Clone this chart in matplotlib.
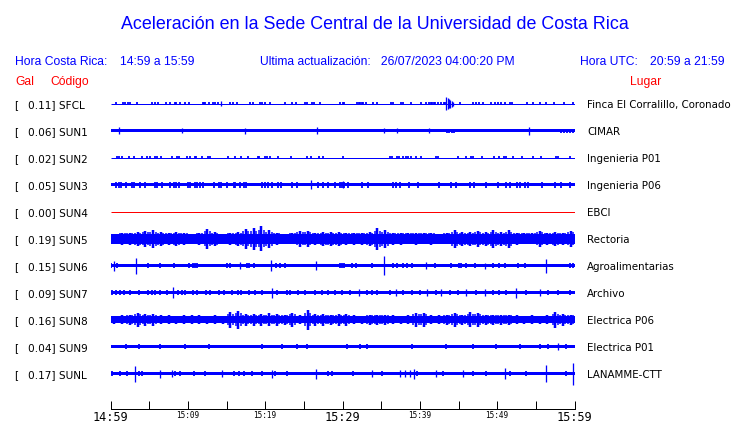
import matplotlib

matplotlib.use("Agg")
import matplotlib.pyplot as plt
import numpy as np

W, H = 740, 423
BLUE = "#0000ff"
RED = "#ff0000"

STATIONS = ["SFCL", "SUN1", "SUN2", "SUN3", "SUN4", "SUN5", "SUN6", "SUN7", "SUN8", "SUN9", "SUNL"]
GAL = ["0.11", "0.06", "0.02", "0.05", "0.00", "0.19", "0.15", "0.09", "0.16", "0.04", "0.17"]
PLACES = [
    "Finca El Corralillo, Coronado", "CIMAR", "Ingenieria P01", "Ingenieria P06", "EBCI",
    "Rectoria", "Agroalimentarias", "Archivo", "Electrica P06", "Electrica P01", "LANAMME-CTT",
]
TICK_MIN = [0, 10, 20, 30, 40, 50, 60]
TICK_TXT = ["14:59", "15:09", "15:19", "15:29", "15:39", "15:49", "15:59"]

# half-amplitude of the steady trace band and of small bursts, in pixels
BASE = [0.5, 1.5, 0.5, 1.3, 0.5, 5.0, 1.7, 1.7, 3.3, 1.5, 1.7]
BURST = [1.7, 2.0, 1.7, 3.0, 0.0, 0.0, 2.7, 2.8, 0.0, 2.3, 2.8]

# minutes after 14:59 with small bursts
SFCL_T = [0.73, 1.59, 1.85, 2.3, 2.5, 3.44, 5.38, 5.72, 6.11, 7.18, 7.74, 8.3, 8.5, 9.03, 9.59,
          10.11, 11.95, 12.1, 12.25, 12.69, 13.25, 13.55, 13.89, 15.4, 15.83, 16.34, 18.06, 18.37,
          19.35, 19.55, 20.0, 20.65, 22.58, 23.44, 23.96, 25.2, 25.4, 26.1, 26.3, 27.1, 29.68, 30.11,
          30.2, 31.9, 32.1, 32.3, 32.5, 32.7, 33.0, 34.0, 34.5, 36.3, 36.5, 37.6, 37.85, 38.8, 40.2,
          40.8, 41.2, 41.4, 41.6, 41.8, 42.0, 42.3, 42.8, 43.1, 43.25, 45.2, 46.9, 47.3, 47.6, 48.2,
          49.25, 49.7, 50.1, 50.5, 51.0, 51.7, 51.9, 53.8, 54.6, 55.5, 56.3, 57.4, 58.7, 59.8]
SFCL_SPIKES = [(14.28, 2.7), (43.44, 6.7), (43.6, 5.5), (43.75, 4.5), (43.9, 4.0), (44.1, 3.0), (44.3, 2.0)]

SUN1_T = [43.5, 43.8, 44.1, 44.4, 58.2, 58.6, 59.0, 59.4, 59.8]
SUN1_SPIKES = [(1.07, 3.7), (9.25, 2.7), (17.4, 3.0), (26.7, 3.3), (35.4, 2.3), (37.1, 2.3),
               (41.2, 2.3), (54.1, 4.0)]

SUN2_T = [0.86, 1.16, 1.51, 2.45, 3.1, 4.09, 4.73, 5.16, 5.81, 6.02, 6.58, 7.96, 8.6, 8.9, 9.89,
          10.32, 10.88, 11.05, 11.83, 12.56, 12.9, 15.18, 16.13, 16.9, 17.76, 19.05, 19.22, 20.0,
          20.3, 20.65, 21.63, 23.3, 25.38, 25.93, 27.0, 27.5, 30.1, 36.13, 36.35, 37.0, 37.34, 37.85,
          38.15, 38.5, 38.84, 39.5, 40.2, 42.15, 42.4, 44.95, 45.94, 46.58, 46.9, 48.1, 49.6, 50.2,
          50.84, 51.2, 52.05, 53.2, 54.6, 55.7, 57.55, 57.85, 59.36]
SUN2_SPIKES = []

SUN3_T = [0.77, 1.08, 1.38, 2.02, 2.8, 3.01, 3.87, 4.43, 5.81, 6.06, 6.67, 7.74, 8.17, 8.52, 8.9,
          10.02, 10.32, 10.88, 11.18, 11.6, 11.9, 13.33, 13.98, 14.32, 15.05, 15.91, 16.13, 16.77,
          17.2, 17.5, 19.57, 20.0, 20.43, 20.86, 21.63, 22.06, 23.44, 24.09, 26.88, 27.5, 28.09,
          29.03, 29.68, 29.98, 30.24, 30.75, 32.48, 33.34, 36.56, 36.9, 37.42, 38.54, 39.79, 42.5,
          44.09, 44.73, 46.54, 46.97, 48.6, 50.1, 51.2, 51.6, 52.5, 52.9, 53.55, 53.98, 55.83,
          57.42, 58.28, 59.36]
SUN3_SPIKES = [(25.89, 4.5), (30.0, 3.5)]

SUN4_T = []
SUN4_SPIKES = []

SUN6_T = [0.09, 0.86, 4.82, 6.45, 8.17, 10.11, 10.62, 10.97, 11.18, 15.05, 15.4, 17.63, 17.85,
          18.62, 21.38, 21.94, 22.58, 29.68, 29.98, 30.2, 31.2, 31.8, 33.85, 36.56, 36.99, 37.85,
          38.28, 38.93, 41.94, 44.09, 45.08, 45.38, 46.0, 47.1, 49.47, 50.3, 50.97, 52.69, 53.55,
          59.36, 59.79]
SUN6_SPIKES = [(0.43, 5.0), (3.36, 8.0), (16.69, 3.5), (20.73, 5.3), (26.54, 4.7), (35.4, 9.3),
               (40.86, 3.5), (48.4, 3.0), (56.35, 7.0)]

SUN7_T = [0.22, 0.65, 1.29, 1.72, 2.58, 3.66, 4.86, 5.38, 5.81, 6.45, 7.31, 8.73, 9.25, 9.68,
          10.62, 11.18, 12.39, 12.9, 13.98, 14.62, 15.7, 16.47, 16.9, 17.85, 18.71, 19.57, 21.5,
          22.8, 23.22, 24.3, 25.16, 26.45, 27.31, 28.17, 29.03, 29.89, 30.97, 33.12, 33.77, 34.41,
          36.13, 37.85, 38.93, 40.0, 42.15, 43.87, 44.95, 47.3, 49.47, 50.3, 51.2, 53.77, 56.56,
          57.85, 59.36]
SUN7_SPIKES = [(8.09, 5.3), (20.86, 5.0), (32.13, 3.5), (36.86, 3.3), (40.95, 3.5), (42.8, 3.5),
               (46.0, 3.3), (48.4, 3.5), (52.39, 5.0), (55.5, 3.5)]

SUN9_T = [1.94, 3.66, 6.45, 9.68, 12.69, 19.57, 22.15, 24.09, 25.38, 30.54, 32.26, 33.12, 38.93,
          43.44, 46.9, 49.9, 52.9, 55.5, 56.56, 58.9]
SUN9_SPIKES = [(57.85, 3.3)]

SUNL_T = [0.13, 1.29, 2.15, 3.66, 4.09, 8.39, 9.03, 10.75, 12.26, 15.91, 16.56, 17.2, 18.28,
          19.57, 21.29, 22.8, 28.17, 28.6, 31.4, 35.06, 39.57, 43.0, 46.9, 48.6, 51.6, 53.77, 58.9]
SUNL_SPIKES = [(3.14, 8.0), (6.37, 4.0), (7.96, 3.5), (14.41, 3.5), (20.86, 4.0), (26.54, 5.0),
               (33.77, 3.3), (37.42, 3.5), (38.07, 3.5), (38.71, 3.5), (39.23, 5.0), (42.15, 3.3),
               (45.6, 3.3), (51.06, 5.3), (56.35, 8.3), (59.79, 11.0)]

# per-minute envelope (half-amplitude, px) of the two noisy stations
SUN5_ENV = [5, 6, 6, 7, 8, 9, 7, 6, 7, 6, 4.5, 6, 10, 7, 4.5, 6, 7, 10, 11, 12.5,
            9, 6, 5, 5.5, 8, 8, 6, 7, 7, 7, 6, 6, 6, 7, 11, 9, 6, 6, 5.5, 6,
            5.5, 6, 4.5, 5.5, 9, 7, 7, 8, 7, 9, 7, 9, 6, 5.5, 5.5, 8, 6, 7, 6, 8]
SUN8_ENV = [4, 4.5, 5, 7, 6, 6, 4.5, 4.5, 4, 4.5, 4.5, 4.5, 4, 4.5, 4, 8, 9, 6, 6, 6,
            6.5, 6, 5, 7, 4.5, 10, 6, 6, 5, 6, 6, 4.5, 4, 5, 5, 5, 4.5, 4, 4.5, 7,
            7, 4.5, 4.5, 5, 7, 5, 7.5, 7, 5, 5, 5, 5, 4.5, 4, 4.5, 4, 4.5, 8, 6, 5]

BURST_T = {"SFCL": SFCL_T, "SUN1": SUN1_T, "SUN2": SUN2_T, "SUN3": SUN3_T, "SUN4": SUN4_T,
           "SUN6": SUN6_T, "SUN7": SUN7_T, "SUN9": SUN9_T, "SUNL": SUNL_T}
SPIKES = {"SFCL": SFCL_SPIKES, "SUN1": SUN1_SPIKES, "SUN2": SUN2_SPIKES, "SUN3": SUN3_SPIKES,
          "SUN4": SUN4_SPIKES, "SUN6": SUN6_SPIKES, "SUN7": SUN7_SPIKES, "SUN9": SUN9_SPIKES,
          "SUNL": SUNL_SPIKES}
ENVELOPES = {"SUN5": SUN5_ENV, "SUN8": SUN8_ENV}

ROW0, ROW_STEP = 103.5, 27.0
PX = 0.72  # points per pixel at dpi 100


def fig_xy(x, y):
    return x / W, 1 - y / H


def label(x, y, s, **kw):
    fx, fy = fig_xy(x, y)
    fig.text(fx, fy, s, va="baseline", **kw)


fig = plt.figure(figsize=(W / 100, H / 100), dpi=100)
ax = fig.add_axes([110.5 / W, (H - 409) / H, 464 / W, (409 - 85) / H])
ax.set_xlim(0, 60)
ax.set_ylim(409, 85)

for i, name in enumerate(STATIONS):
    y = ROW0 + i * ROW_STEP
    if name == "SUN4":
        ax.hlines(y, 0, 60, color=RED, lw=1.0 * PX)
    elif name in ENVELOPES:
        env = np.array(ENVELOPES[name])
        mid = np.arange(len(env)) + 0.5
        ax.fill_between([0, 60], y - BASE[i], y + BASE[i], color=BLUE, lw=0)
        ax.vlines(mid, y - env, y + env, color=BLUE, lw=2.5 * PX)
        half = (env + BASE[i]) / 2
        ax.vlines(mid - 0.33, y - half, y + half, color=BLUE, lw=1.5 * PX)
        ax.vlines(mid + 0.33, y - half, y + half, color=BLUE, lw=1.5 * PX)
    else:
        if BASE[i] <= 0.5:
            ax.hlines(y, 0, 60, color=BLUE, lw=1.0 * PX)
        else:
            ax.fill_between([0, 60], y - BASE[i], y + BASE[i], color=BLUE, lw=0)
        t = BURST_T[name]
        if t:
            ax.vlines(t, y - BURST[i], y + BURST[i], color=BLUE, lw=1.8 * PX)
        for ts, a in SPIKES[name]:
            ax.vlines(ts, y - a, y + a, color=BLUE, lw=1.3 * PX)

    label(14, y + 4.4, "[", fontsize=7.6, family="DejaVu Sans")
    label(27.5, y + 4.4, f"{GAL[i]}] {name}", fontsize=7.6, family="DejaVu Sans")
    label(587, y + 4.4, PLACES[i], fontsize=7.4, family="DejaVu Sans")

# time axis
for s in ["top", "left", "right"]:
    ax.spines[s].set_visible(False)
ax.spines["bottom"].set_linewidth(1.0 * PX)
ax.set_yticks([])
ax.set_xticks(np.arange(0, 61, 5))
ax.set_xticklabels([TICK_TXT[TICK_MIN.index(m)] if m in TICK_MIN else "" for m in range(0, 61, 5)],
                   family="DejaVu Sans Mono")
ax.tick_params(axis="x", direction="in", length=8 * PX, width=1.0 * PX, pad=1.5)
for m, lab in zip(range(0, 61, 5), ax.get_xticklabels()):
    lab.set_fontsize(8.6 if m in (0, 30, 60) else 5.5)

# header
fx, fy = fig_xy(375, 29)
fig.text(fx, fy, "Aceleración en la Sede Central de la Universidad de Costa Rica", ha="center",
         va="baseline", color=BLUE, fontsize=12.9, family="Liberation Sans")
hdr = dict(color=BLUE, fontsize=8.7, family="Liberation Sans")
label(15, 65, "Hora Costa Rica:", **hdr)
label(120, 65, "14:59 a 15:59", **hdr)
label(260, 65, "Ultima actualización:   26/07/2023 04:00:20 PM", **hdr)
label(580.5, 65, "Hora UTC:", **hdr)
label(650, 65, "20:59 a 21:59", **hdr)
red = dict(color=RED, fontsize=8.7, family="Liberation Sans")
label(15, 85, "Gal", **red)
label(50, 85, "Código", **red)
label(630, 85, "Lugar", **red)

fig.savefig("out.png", dpi=100)
